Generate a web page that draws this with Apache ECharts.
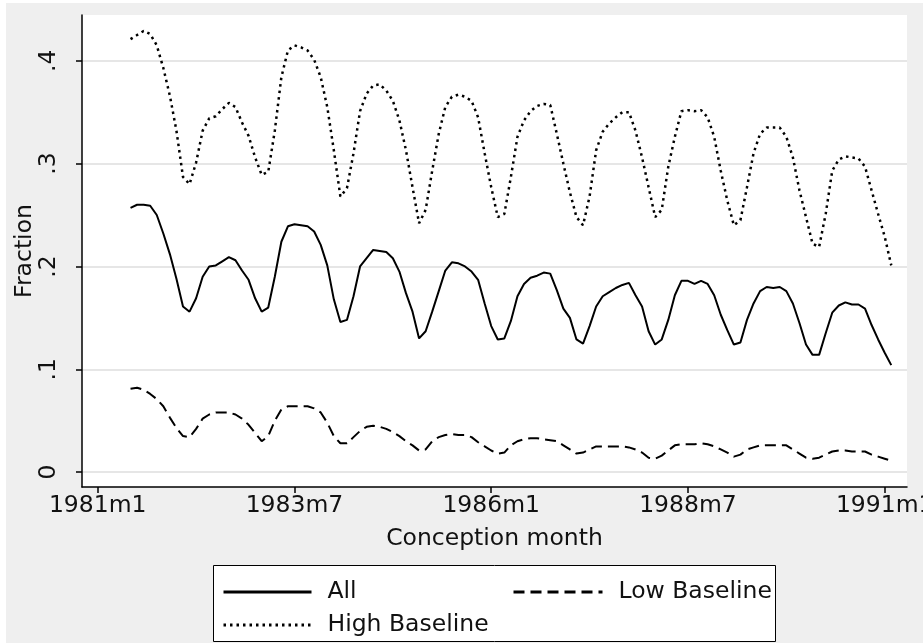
<!DOCTYPE html>
<html>
<head>
<meta charset="utf-8">
<script src="https://cdn.jsdelivr.net/npm/echarts@6/dist/echarts.min.js"></script>
<style>
  html, body { margin: 0; padding: 0; background: #fff; }
  #chart { width: 923px; height: 643px; }
</style>
</head>
<body>
<div id="chart"></div>
<script>
// monthly series, first point is 1981m6 (month index 5 counted from 1981m1)
var firstMonth = 5

var allValues = [
  0.257, 0.260, 0.260, 0.259, 0.250, 0.232, 0.212, 0.188, 0.161, 0.156,
  0.169, 0.190, 0.200, 0.201, 0.205, 0.209, 0.206, 0.196, 0.187, 0.169,
  0.156, 0.160, 0.190, 0.224, 0.239, 0.241, 0.240, 0.239, 0.234, 0.221,
  0.201, 0.168, 0.146, 0.148, 0.171, 0.200, 0.208, 0.216, 0.215, 0.214,
  0.208, 0.195, 0.174, 0.156, 0.130, 0.137, 0.156, 0.176, 0.196, 0.204,
  0.203, 0.200, 0.195, 0.187, 0.164, 0.142, 0.129, 0.130, 0.147, 0.171,
  0.183, 0.189, 0.191, 0.194, 0.193, 0.177, 0.159, 0.150, 0.129, 0.125,
  0.142, 0.161, 0.171, 0.175, 0.179, 0.182, 0.184, 0.172, 0.161, 0.137,
  0.124, 0.129, 0.148, 0.172, 0.186, 0.186, 0.183, 0.186, 0.183, 0.172,
  0.153, 0.138, 0.124, 0.126, 0.148, 0.164, 0.176, 0.180, 0.179, 0.180,
  0.176, 0.164, 0.145, 0.124, 0.114, 0.114, 0.135, 0.155, 0.162, 0.165,
  0.163, 0.163, 0.159, 0.143, 0.129, 0.116, 0.104
]

var lowValues = [
  0.081, 0.082, 0.080, 0.076, 0.071, 0.064, 0.053, 0.043, 0.035, 0.034,
  0.042, 0.052, 0.056, 0.058, 0.058, 0.058, 0.056, 0.052, 0.046, 0.038,
  0.030, 0.035, 0.050, 0.061, 0.064, 0.064, 0.064, 0.064, 0.062, 0.058,
  0.048, 0.035, 0.028, 0.028, 0.034, 0.040, 0.044, 0.045, 0.044, 0.042,
  0.039, 0.035, 0.030, 0.026, 0.021, 0.022, 0.030, 0.034, 0.036, 0.037,
  0.036, 0.036, 0.034, 0.029, 0.025, 0.021, 0.018, 0.019, 0.026, 0.030,
  0.032, 0.033, 0.033, 0.032, 0.031, 0.030, 0.026, 0.022, 0.018, 0.019,
  0.022, 0.025, 0.025, 0.025, 0.025, 0.025, 0.024, 0.022, 0.019, 0.014,
  0.013, 0.016, 0.021, 0.026, 0.027, 0.027, 0.027, 0.028, 0.027, 0.025,
  0.022, 0.019, 0.015, 0.017, 0.022, 0.024, 0.026, 0.026, 0.026, 0.026,
  0.026, 0.022, 0.018, 0.014, 0.013, 0.014, 0.017, 0.020, 0.021, 0.021,
  0.020, 0.020, 0.020, 0.017, 0.015, 0.013, 0.011
]

var highValues = [
  0.421, 0.425, 0.429, 0.426, 0.415, 0.393, 0.366, 0.332, 0.287, 0.280,
  0.301, 0.332, 0.344, 0.346, 0.353, 0.359, 0.355, 0.340, 0.327, 0.306,
  0.289, 0.292, 0.332, 0.384, 0.410, 0.415, 0.413, 0.410, 0.401, 0.384,
  0.355, 0.313, 0.268, 0.276, 0.310, 0.351, 0.368, 0.376, 0.377, 0.371,
  0.361, 0.342, 0.313, 0.277, 0.242, 0.255, 0.293, 0.329, 0.355, 0.365,
  0.367, 0.365, 0.361, 0.345, 0.310, 0.277, 0.248, 0.251, 0.287, 0.326,
  0.342, 0.351, 0.356, 0.358, 0.357, 0.329, 0.300, 0.272, 0.248, 0.240,
  0.268, 0.313, 0.331, 0.339, 0.345, 0.350, 0.350, 0.332, 0.306, 0.277,
  0.248, 0.255, 0.297, 0.326, 0.351, 0.352, 0.351, 0.352, 0.345, 0.326,
  0.293, 0.264, 0.240, 0.245, 0.277, 0.310, 0.329, 0.335, 0.335, 0.335,
  0.326, 0.306, 0.274, 0.248, 0.222, 0.219, 0.251, 0.293, 0.304, 0.307,
  0.306, 0.305, 0.297, 0.274, 0.251, 0.229, 0.201
]

var xTickMonths = [0, 30, 60, 90, 120]
var xTickLabels = ['1981m1', '1983m7', '1986m1', '1988m7', '1991m1']
var yTickValues = [0, 0.1, 0.2, 0.3, 0.4]
var yTickLabels = ['0', '.1', '.2', '.3', '.4']

function toPairs(values) {
  return values.map(function(v, i) { return [firstMonth + i, v] })
}

var font = 'DejaVu Sans'
var fontSize = 23.5
var chart = echarts.init(document.getElementById('chart'))

function legendItem(name, left, top, width) {
  return {
    data: [name],
    left: left,
    top: top,
    padding: 0,
    itemWidth: width,
    itemHeight: 14,
    itemStyle: { opacity: 0, borderWidth: 0 },
    lineStyle: { width: 3 },
    textStyle: { fontSize: fontSize, color: '#111', fontFamily: font, padding: [0, 0, 0, 11] }
  }
}

chart.setOption({
  animation: false,
  backgroundColor: '#fff',
  textStyle: { fontFamily: font, color: '#111' },
  grid: {
    left: 82,
    right: 16,
    top: 15,
    bottom: 156,
    outerBoundsMode: 'none',
    containLabel: false,
    show: true,
    backgroundColor: '#fff',
    borderWidth: 0
  },
  xAxis: {
    type: 'value',
    min: -2.4,
    max: 123.4,
    name: 'Conception month',
    nameLocation: 'middle',
    nameGap: 40,
    nameTextStyle: { fontSize: fontSize, color: '#111', fontFamily: font },
    axisLine: { show: true, onZero: false, lineStyle: { color: '#000', width: 1.5 } },
    axisTick: { show: true, length: 6, customValues: xTickMonths, lineStyle: { color: '#000', width: 1.5 } },
    axisLabel: {
      customValues: xTickMonths,
      margin: 7,
      fontSize: fontSize,
      color: '#111',
      fontFamily: font,
      formatter: function(v) { return xTickLabels[xTickMonths.indexOf(v)] }
    },
    splitLine: { show: false }
  },
  yAxis: {
    type: 'value',
    min: -0.0145,
    max: 0.4445,
    name: 'Fraction',
    nameLocation: 'middle',
    nameGap: 45,
    nameMoveOverlap: false,
    nameTextStyle: { fontSize: fontSize, color: '#111', fontFamily: font },
    axisLine: { show: true, onZero: false, lineStyle: { color: '#000', width: 1.5 } },
    axisTick: { show: true, length: 6, customValues: yTickValues, lineStyle: { color: '#000', width: 1.5 } },
    axisLabel: {
      customValues: yTickValues,
      rotate: 90,
      margin: 21,
      fontSize: fontSize,
      color: '#111',
      fontFamily: font,
      formatter: function(v) {
        var i = yTickValues.findIndex(function(t) { return Math.abs(t - v) < 1e-9 })
        return yTickLabels[i]
      }
    },
    splitLine: { show: true, lineStyle: { color: '#e6e6e6', width: 2 } }
  },
  legend: [
    legendItem('All', 222, 580, 88),
    legendItem('Low Baseline', 512, 580, 89),
    legendItem('High Baseline', 222, 613, 88)
  ],
  graphic: [
    {
      // gray graph region, inset by a thin white margin at top and left
      type: 'rect',
      left: 6, top: 3,
      shape: { width: 917, height: 640 },
      style: { fill: '#efefef' },
      z: -100,
      silent: true
    },
    {
      type: 'rect',
      left: 213, top: 565,
      shape: { width: 562, height: 76 },
      style: { fill: '#fff', stroke: '#000', lineWidth: 1 },
      z: -1,
      silent: true
    }
  ],
  series: [
    {
      name: 'All',
      type: 'line',
      data: toPairs(allValues),
      symbol: 'none',
      lineStyle: { color: '#000', width: 2, type: 'solid' },
      itemStyle: { color: '#000' }
    },
    {
      name: 'Low Baseline',
      type: 'line',
      data: toPairs(lowValues),
      symbol: 'none',
      lineStyle: { color: '#000', width: 2, type: [11, 6] },
      itemStyle: { color: '#000' }
    },
    {
      name: 'High Baseline',
      type: 'line',
      data: toPairs(highValues),
      symbol: 'none',
      lineStyle: { color: '#000', width: 2.5, type: [2.5, 4] },
      itemStyle: { color: '#000' }
    }
  ]
})
</script>
</body>
</html>
